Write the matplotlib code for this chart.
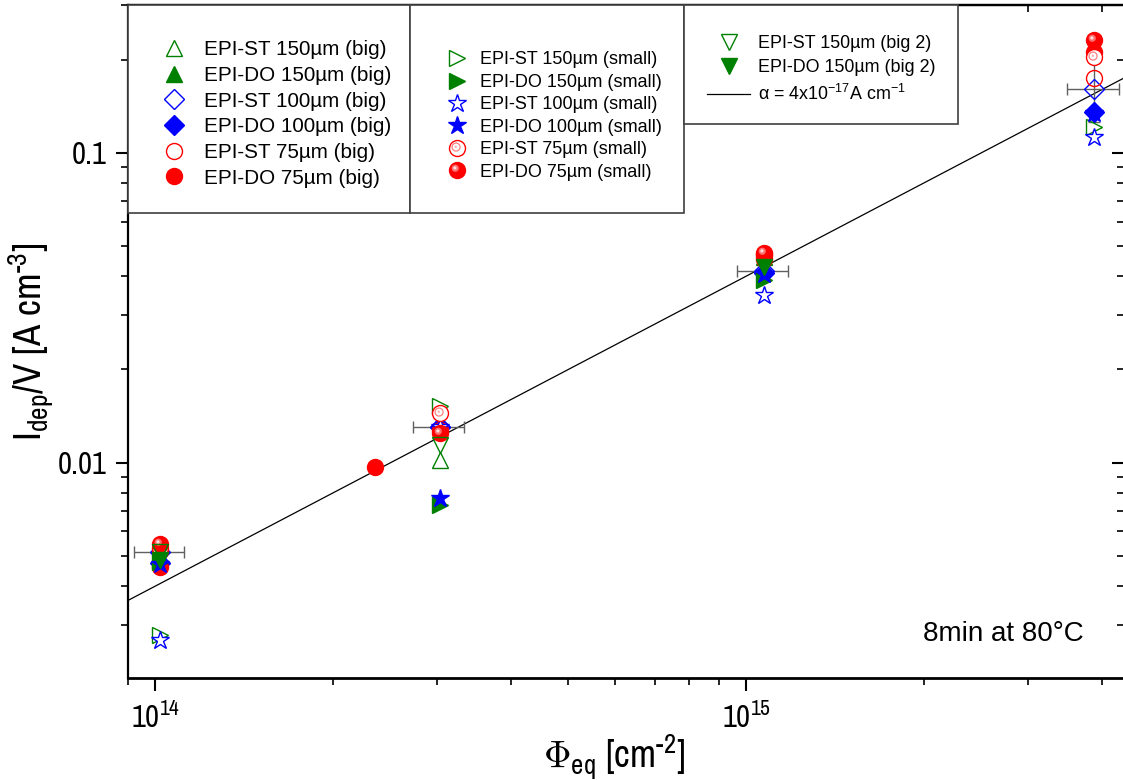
import numpy as np
import matplotlib
matplotlib.use("Agg")
import matplotlib.pyplot as plt
from matplotlib import font_manager
from matplotlib.path import Path
from matplotlib.patches import Rectangle
from matplotlib.lines import Line2D
from matplotlib.legend_handler import HandlerTuple
from matplotlib.ticker import LogLocator, NullFormatter, FixedLocator, FixedFormatter

_names = {f.name for f in font_manager.fontManager.ttflist}
NARROW = next((n for n in ['Liberation Sans Narrow', 'Arial Narrow', 'Archivo Narrow',
                           'PT Sans Narrow', 'Roboto Condensed', 'Liberation Sans']
               if n in _names), 'DejaVu Sans')

plt.rcParams['font.family'] = ['Liberation Sans', 'DejaVu Sans']
plt.rcParams['mathtext.fontset'] = 'custom'
plt.rcParams['mathtext.rm'] = NARROW
plt.rcParams['mathtext.it'] = NARROW
plt.rcParams['mathtext.sf'] = NARROW

# ---------------- data ----------------
phi = [1.02e14, 3.03e14, 1.07e15, 3.88e15]          # fluence groups [cm^-2]
phi_do75_big = [1.02e14, 2.35e14, 1.07e15, 3.88e15]
nan = np.nan

st150_big = [5.0e-3, 1.02e-2, nan, nan]
do150_big = [4.9e-3, nan, 0.0462, nan]
st100_big = [5.14e-3, 1.30e-2, 0.0416, 0.161]
do100_big = [4.75e-3, 1.30e-2, 0.0410, 0.135]
st75_big = [5.2e-3, 1.28e-2, 0.0465, 0.175]
do75_big = [4.6e-3, 9.7e-3, 0.0455, 0.212]
st150_small = [2.79e-3, 1.53e-2, nan, 0.121]
do150_small = [4.8e-3, 7.33e-3, 0.0389, nan]
st100_small = [2.67e-3, 1.30e-2, 0.0348, 0.1127]
do100_small = [4.7e-3, 7.71e-3, 0.0405, 0.1346]
st75_small = [5.3e-3, 1.45e-2, 0.047, 0.204]
do75_small = [5.45e-3, 1.25e-2, 0.0475, 0.232]
st150_big2 = [5.15e-3, 1.143e-2, nan, nan]
do150_big2 = [4.85e-3, nan, 0.0428, nan]

phi_err = [0.10e14, 0.30e14, 0.107e15, 0.39e15]
y_err = [0.0003, 0.001, 0.002, 0.035]

alpha = 4e-17
fit_x = [9e13, 4.4e15]

x_ticks = [1e14, 1e15]
x_ticklabels = [r"10$^{14}$", r"10$^{15}$"]
y_ticks = [0.01, 0.1]
y_ticklabels = ["0.01", "0.1"]

labels1 = ["EPI-ST 150µm (big)", "EPI-DO 150µm (big)", "EPI-ST 100µm (big)",
           "EPI-DO 100µm (big)", "EPI-ST 75µm (big)", "EPI-DO 75µm (big)"]
labels2 = ["EPI-ST 150µm (small)", "EPI-DO 150µm (small)", "EPI-ST 100µm (small)",
           "EPI-DO 100µm (small)", "EPI-ST 75µm (small)", "EPI-DO 75µm (small)"]
labels3 = ["EPI-ST 150µm (big 2)", "EPI-DO 150µm (big 2)"]
fit_label = r"$\mathregular{\alpha}$ = 4x10$^{\mathregular{-17}}$A cm$^{\mathregular{-1}}$"

GREEN = "#008000"
BLUE = "#0000ff"
RED = "#ff0000"

# ---------------- custom marker paths ----------------
def circ_marker(cx, cy, r, n=40):
    t = np.linspace(0, 2 * np.pi, n)
    verts = list(zip(cx + r * np.cos(t), cy + r * np.sin(t)))
    codes = [Path.MOVETO] + [Path.LINETO] * (n - 2) + [Path.CLOSEPOLY]
    verts += [(-1, -1), (1, 1)]
    codes += [Path.MOVETO, Path.MOVETO]
    return Path(verts, codes)

hl_big = circ_marker(-0.28, 0.28, 0.45)
hl_small = circ_marker(-0.32, 0.32, 0.2)
inner_ring = circ_marker(-0.18, 0.18, 0.5)
inner_dot = circ_marker(-0.22, 0.22, 0.15)

fig = plt.figure(figsize=(11.23, 7.80), dpi=100)
ax = fig.add_axes([127.5 / 1123, 1 - 678 / 780, (1124 - 127.5) / 1123, (678 - 5) / 780])
ax.set_xscale('log')
ax.set_yscale('log')
ax.set_xlim(8.97e13, 4.36e15)
ax.set_ylim(2.02e-3, 0.30)

fx = np.array(fit_x)
ax.plot(fx, alpha * fx, color='black', lw=0.9, zorder=2)

MS = 11.5

def pl(x, y, marker, color, filled, ms=MS, z=3, fc=None):
    face = color if filled else (fc if fc is not None else 'none')
    h, = ax.plot(x, y, ls='none', marker=marker, ms=ms, mfc=face, mec=color,
                 mew=1.0, zorder=z)
    return h

def ball(x, y, ms=MS, z=3):
    h1 = pl(x, y, 'o', RED, True, ms=ms, z=z)
    h2, = ax.plot(x, y, ls='none', marker=hl_big, ms=ms, mfc='#ff7070', mec='none', zorder=z)
    h3, = ax.plot(x, y, ls='none', marker=hl_small, ms=ms, mfc='#ffe0e0', mec='none', zorder=z)
    return (h1, h2, h3)

def ringed(x, y, ms=MS, z=3):
    h1 = pl(x, y, 'o', RED, False, ms=ms, z=z, fc='white')
    h2, = ax.plot(x, y, ls='none', marker=inner_ring, ms=ms, mfc='none', mec='#ff8080',
                  mew=0.9, zorder=z)
    h3, = ax.plot(x, y, ls='none', marker=inner_dot, ms=ms, mfc='#ffb0b0', mec='none', zorder=z)
    return (h1, h2, h3)

ax.errorbar(phi, st100_big, xerr=np.array(phi_err), yerr=y_err, fmt='none',
            ecolor='#606060', elinewidth=1.0, capsize=4, capthick=1.0, zorder=2.5)

h = {}
h['st150_big'] = pl(phi, st150_big, '^', GREEN, False)
h['do150_big'] = pl(phi, do150_big, '^', GREEN, True)
h['st100_big'] = pl(phi, st100_big, 'D', BLUE, False, ms=10)
h['do100_big'] = pl(phi, do100_big, 'D', BLUE, True, ms=10)
h['st75_big'] = pl(phi, st75_big, 'o', RED, False)
h['do75_big'] = pl(phi_do75_big, do75_big, 'o', RED, True)
h['st150_small'] = pl(phi, st150_small, '>', GREEN, False, z=4)
h['do150_small'] = pl(phi, do150_small, '>', GREEN, True, z=4)
h['st100_small'] = pl(phi, st100_small, '*', BLUE, False, ms=13.5, z=4, fc='white')
h['do100_small'] = pl(phi, do100_small, '*', BLUE, True, ms=13.5, z=4)
h['st75_small'] = ringed(phi, st75_small, z=4)
h['do75_small'] = ball(phi, do75_small, z=4)
h['st150_big2'] = pl(phi, st150_big2, 'v', GREEN, False, z=5)
h['do150_big2'] = pl(phi, do150_big2, 'v', GREEN, True, z=5)

# ---------------- axes styling ----------------
for side in ['left', 'bottom', 'top', 'right']:
    ax.spines[side].set_linewidth(1.6)
ax.spines['bottom'].set_linewidth(2.0)

sub = np.arange(2, 10)
ax.xaxis.set_major_locator(FixedLocator(x_ticks))
ax.xaxis.set_major_formatter(FixedFormatter(x_ticklabels))
ax.xaxis.set_minor_locator(LogLocator(base=10, subs=sub, numticks=20))
ax.xaxis.set_minor_formatter(NullFormatter())
ax.yaxis.set_major_locator(FixedLocator(y_ticks))
ax.yaxis.set_major_formatter(FixedFormatter(y_ticklabels))
ax.yaxis.set_minor_locator(LogLocator(base=10, subs=sub, numticks=20))
ax.yaxis.set_minor_formatter(NullFormatter())

ax.tick_params(which='both', direction='out', bottom=True, left=True, top=False, right=False)
ax.tick_params(which='major', length=9, width=1.5, labelsize=22)
ax.tick_params(which='minor', length=5, width=1.2)
ax.tick_params(axis='x', which='major', pad=8)
ax.tick_params(axis='y', which='major', pad=6)
for lab in ax.get_xticklabels() + ax.get_yticklabels():
    lab.set_fontfamily(NARROW)

axt = ax.secondary_xaxis('top')
axt.xaxis.set_major_locator(FixedLocator(x_ticks))
axt.xaxis.set_minor_locator(LogLocator(base=10, subs=sub, numticks=20))
axt.tick_params(which='both', direction='in', labeltop=False)
axt.tick_params(which='major', length=9, width=1.5)
axt.tick_params(which='minor', length=5, width=1.2)
axt.xaxis.set_minor_formatter(NullFormatter())
axt.xaxis.set_major_formatter(NullFormatter())
axt.spines['top'].set_linewidth(1.6)

axr = ax.secondary_yaxis('right')
axr.yaxis.set_major_locator(FixedLocator(y_ticks))
axr.yaxis.set_minor_locator(LogLocator(base=10, subs=sub, numticks=20))
axr.tick_params(which='both', direction='in', labelright=False)
axr.tick_params(which='major', length=9, width=1.5)
axr.tick_params(which='minor', length=5, width=1.2)
axr.yaxis.set_minor_formatter(NullFormatter())
axr.yaxis.set_major_formatter(NullFormatter())


def axx(px):
    return (px - 127.5) / (1124 - 127.5)

def axy(py):
    return (678 - py) / (678 - 5)


ax.set_xlabel(r"$\Phi_{\mathregular{eq}}$ [cm$^{\text{-2}}$]", fontsize=27.5, labelpad=0,
              fontfamily=NARROW)
ax.xaxis.label.set_x(axx(614))
ax.set_ylabel(r"I$_{\mathregular{dep}}$/V [A cm$^{\text{-3}}$]", fontsize=28, labelpad=1.5,
              fontfamily=NARROW)

ax.text(0.96, 0.065, "8min at 80°C", transform=ax.transAxes, fontsize=20,
        ha='right', va='center')

# ---------------- legend boxes ----------------
def box(x0, y0, x1, y1):
    r = Rectangle((x0, y0), x1 - x0, y1 - y0, transform=ax.transAxes, fill=True,
                  facecolor='white', edgecolor='#404040', lw=1.2, zorder=6, clip_on=False)
    ax.add_patch(r)

box(axx(127.5), axy(213), axx(410), axy(5))
box(axx(410), axy(213), axx(684), axy(5))
box(axx(684), axy(124), axx(958), axy(5))

tup = {tuple: HandlerTuple(ndivide=1, pad=0)}

leg1 = ax.legend([h['st150_big'], h['do150_big'], h['st100_big'], h['do100_big'],
                  h['st75_big'], h['do75_big']], labels1,
                 loc='center left', bbox_to_anchor=(axx(158), axy(114)),
                 frameon=False, fontsize=14.9, handlelength=1.5, handletextpad=0.7,
                 labelspacing=0.32, borderpad=0, borderaxespad=0, numpoints=1)
leg1.set_zorder(7)
ax.add_artist(leg1)

leg2 = ax.legend([h['st150_small'], h['do150_small'], h['st100_small'], h['do100_small'],
                  h['st75_small'], h['do75_small']], labels2,
                 loc='center left', bbox_to_anchor=(axx(445), axy(116)),
                 frameon=False, fontsize=13, handlelength=1.3, handletextpad=0.65,
                 labelspacing=0.3, borderpad=0, borderaxespad=0, numpoints=1,
                 handler_map=tup)
leg2.set_zorder(7)
ax.add_artist(leg2)

fit_handle = Line2D([], [], color='black', lw=0.9)
leg3 = ax.legend([h['st150_big2'], h['do150_big2'], fit_handle], labels3 + [fit_label],
                 loc='center left', bbox_to_anchor=(axx(707), axy(69.5)),
                 frameon=False, fontsize=12.9, handlelength=2.4, handletextpad=0.45,
                 labelspacing=0.42, borderpad=0, borderaxespad=0, numpoints=1)
leg3.set_zorder(7)

fig.savefig("out.png", dpi=100)
